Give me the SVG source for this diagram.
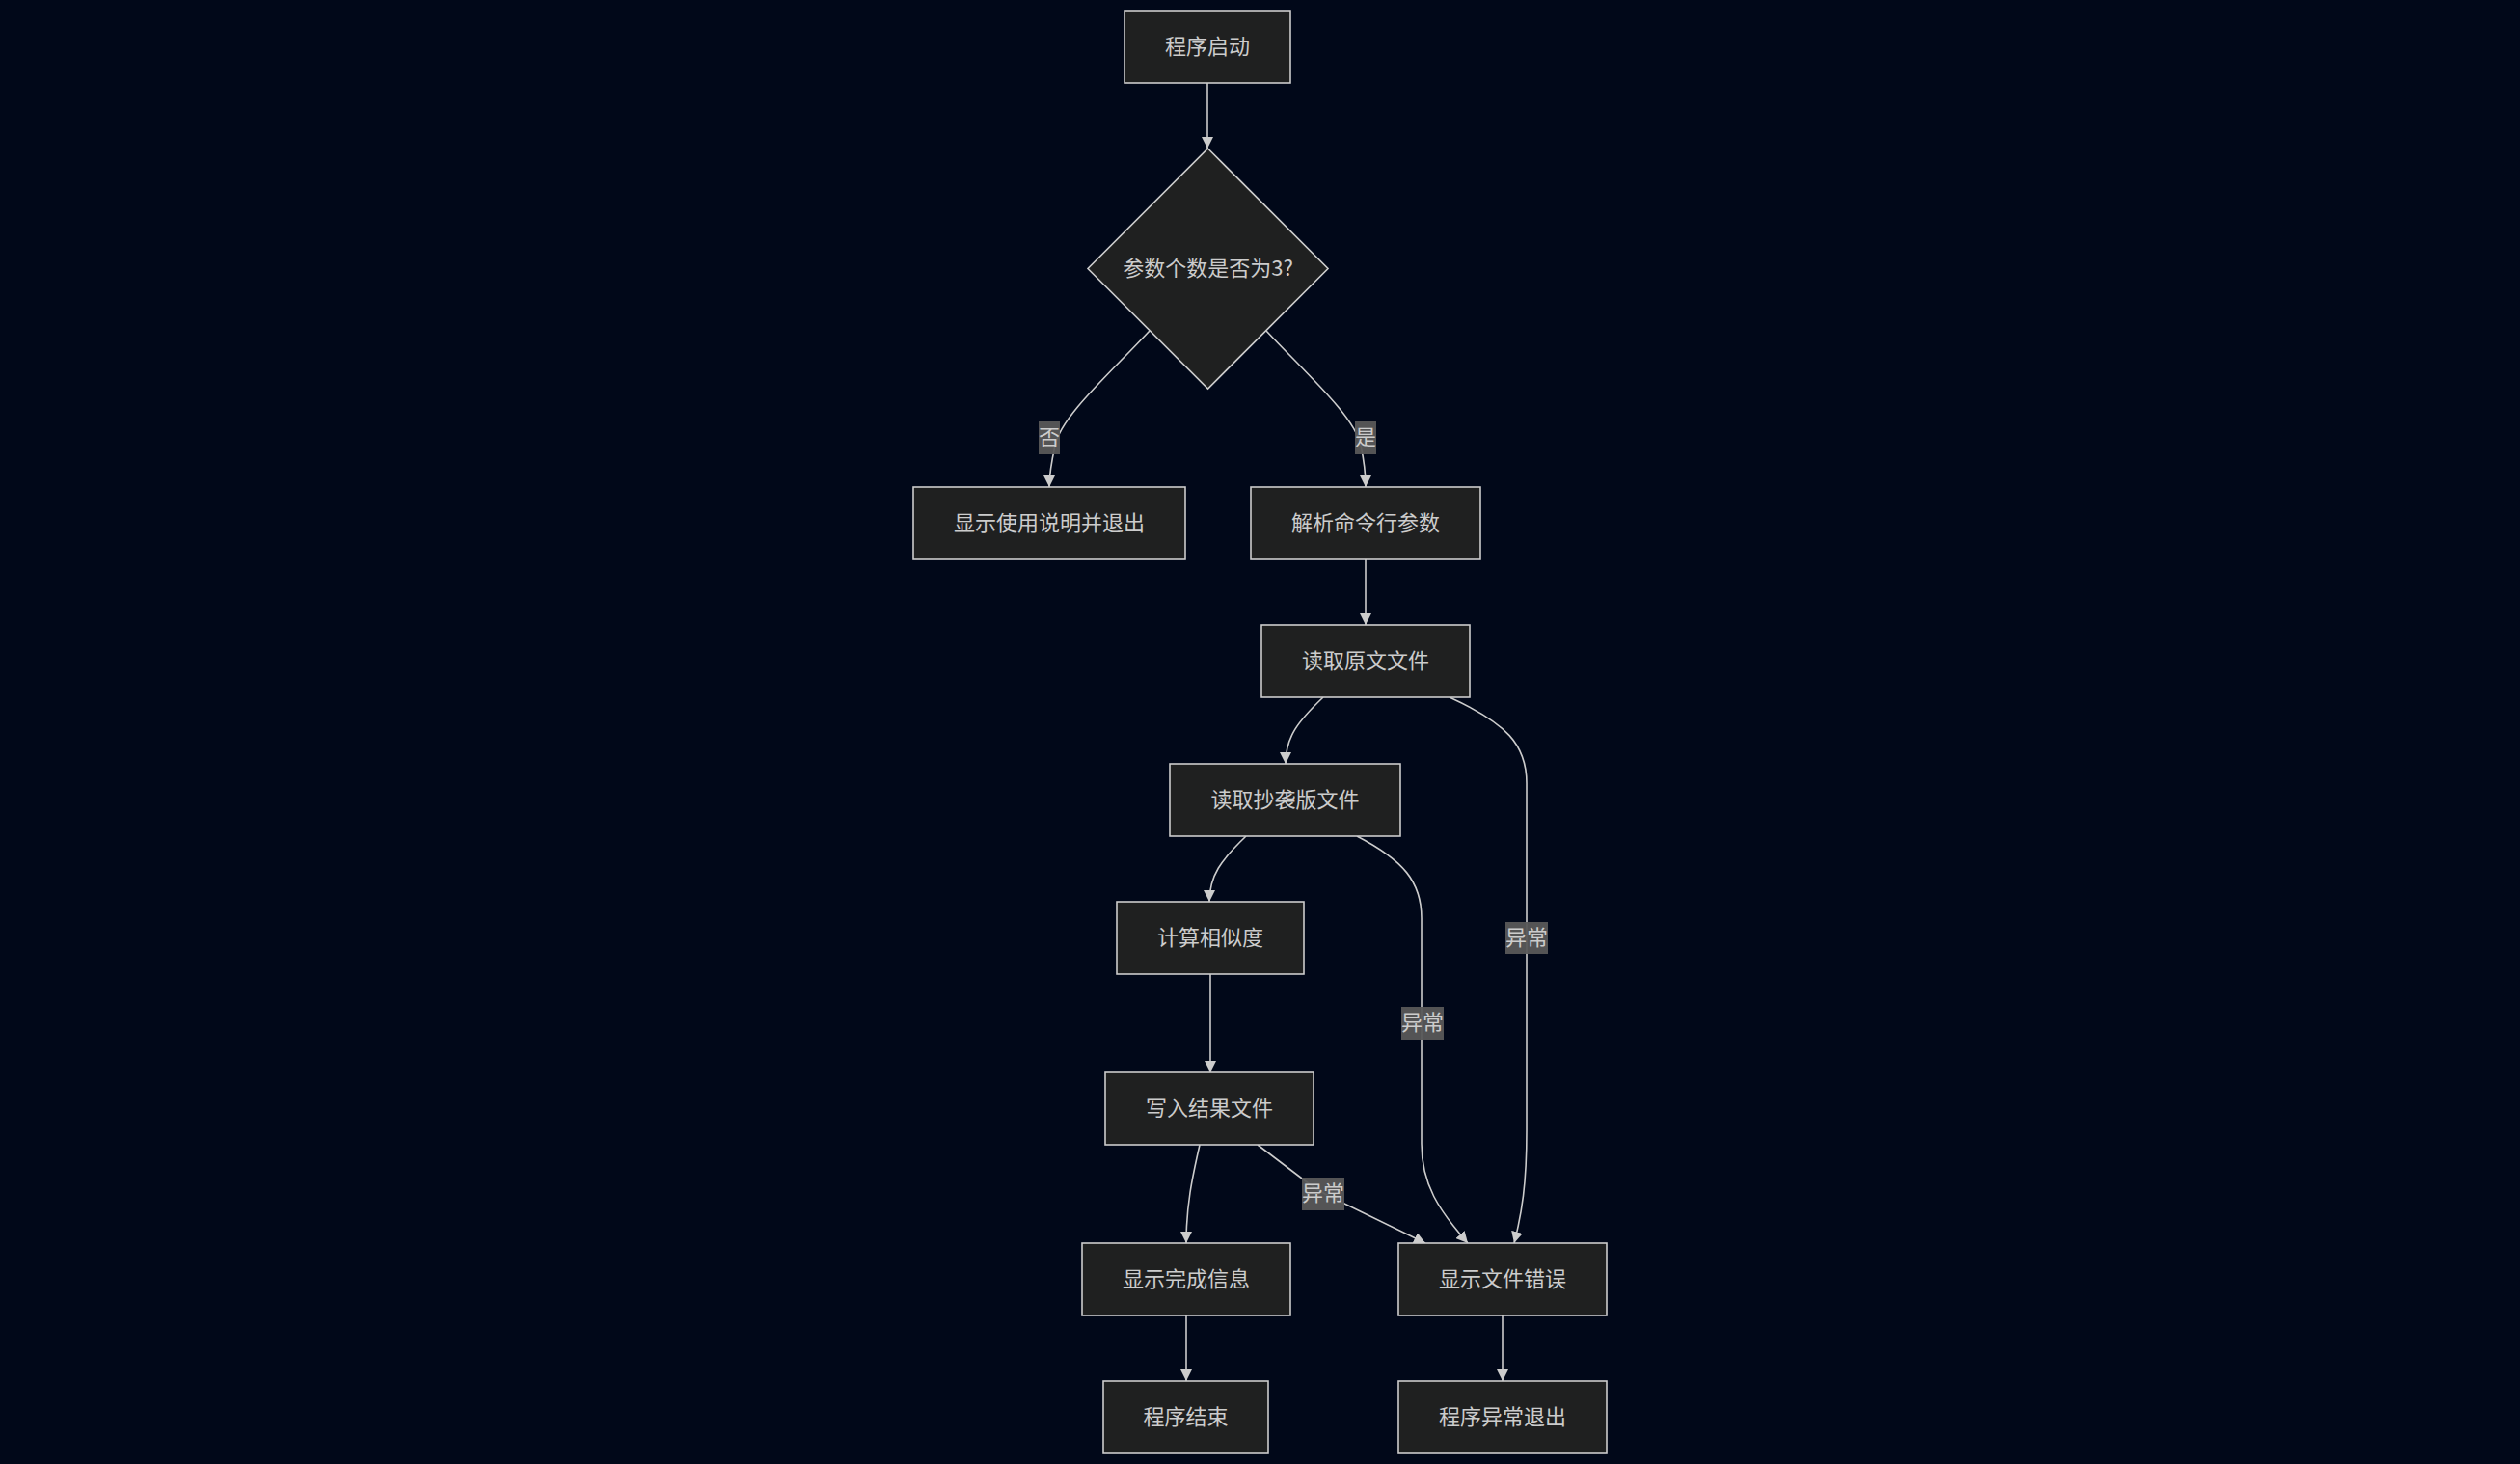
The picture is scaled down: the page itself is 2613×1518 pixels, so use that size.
<svg xmlns="http://www.w3.org/2000/svg" width="2613" height="1518" viewBox="0 0 2613 1518">
<style>
.node rect,.node polygon{fill:#1f2020;stroke:#cccccc;stroke-width:1.6}
.node text{fill:#cccccc;font-family:"Noto Sans CJK SC","Noto Sans",sans-serif;font-size:22px;text-anchor:middle;dominant-baseline:central}
.edge{fill:none;stroke:#cccccc;stroke-width:1.6;marker-end:url(#arrow)}
.lbl rect{fill:#585858;opacity:0.95}
.lbl text{fill:#cccccc;font-family:"Noto Sans CJK SC","Noto Sans",sans-serif;font-size:22px;text-anchor:middle;dominant-baseline:central}
</style>
<defs>
<marker id="arrow" viewBox="0 0 12 12" refX="12" refY="6" markerWidth="12" markerHeight="12" markerUnits="userSpaceOnUse" orient="auto">
<path d="M0,0 L12,6 L0,12 z" fill="#cccccc"/>
</marker>
</defs>
<rect x="0" y="0" width="2613" height="1518" fill="#010819"/>
<g id="connectors">
<path class="edge" d="M1252,86 L1252,154"/>
<path class="edge" d="M1192,343 C1150,388 1100,432 1094,462 C1090,480 1088,490 1088,505"/>
<path class="edge" d="M1313,343 C1355,388 1405,432 1411,462 C1415,480 1416,490 1416,505"/>
<path class="edge" d="M1416,580 L1416,648"/>
<path class="edge" d="M1372,723 C1346,748 1333,764 1333,792"/>
<path class="edge" d="M1503,723 C1562,750 1583,772 1583,812 L1583,1172 C1583,1228 1578,1258 1570,1289"/>
<path class="edge" d="M1292,867 C1266,892 1254,908 1254,935"/>
<path class="edge" d="M1407,867 C1455,892 1474,914 1474,952 L1474,1186 C1474,1228 1492,1255 1522,1289"/>
<path class="edge" d="M1255,1010 L1255,1112"/>
<path class="edge" d="M1244,1187 C1236,1222 1230,1250 1230,1289"/>
<path class="edge" d="M1304,1187 L1358,1228 Q1372,1238 1390,1246 L1478,1289"/>
<path class="edge" d="M1230,1364 L1230,1432"/>
<path class="edge" d="M1558,1364 L1558,1432"/>
<g class="lbl"><rect x="1077" y="437" width="22" height="34"/><text x="1088" y="451">否</text></g>
<g class="lbl"><rect x="1405" y="437" width="22" height="34"/><text x="1416" y="451">是</text></g>
<g class="lbl"><rect x="1561" y="956" width="44" height="33"/><text x="1583" y="969.5">异常</text></g>
<g class="lbl"><rect x="1453" y="1044" width="44" height="34"/><text x="1475" y="1058">异常</text></g>
<g class="lbl"><rect x="1350" y="1221" width="44" height="34"/><text x="1372" y="1235">异常</text></g>
</g>
<g id="A" class="node"><rect x="1166" y="11" width="172" height="75"/><text x="1252" y="45.5">程序启动</text></g>
<g id="B" class="node"><polygon points="1252.5,154 1377,278.5 1252.5,403 1128,278.5"/><text x="1252.5" y="275.5">参数个数是否为3?</text></g>
<g id="C" class="node"><rect x="947" y="505" width="282" height="75"/><text x="1088" y="539.5">显示使用说明并退出</text></g>
<g id="D" class="node"><rect x="1297" y="505" width="238" height="75"/><text x="1416" y="539.5">解析命令行参数</text></g>
<g id="E" class="node"><rect x="1308" y="648" width="216" height="75"/><text x="1416" y="682.5">读取原文文件</text></g>
<g id="F" class="node"><rect x="1213" y="792" width="239" height="75"/><text x="1332.5" y="826.5">读取抄袭版文件</text></g>
<g id="G" class="node"><rect x="1158" y="935" width="194" height="75"/><text x="1255" y="969.5">计算相似度</text></g>
<g id="H" class="node"><rect x="1146" y="1112" width="216" height="75"/><text x="1254" y="1146.5">写入结果文件</text></g>
<g id="I" class="node"><rect x="1122" y="1289" width="216" height="75"/><text x="1230" y="1323.5">显示完成信息</text></g>
<g id="J" class="node"><rect x="1450" y="1289" width="216" height="75"/><text x="1558" y="1323.5">显示文件错误</text></g>
<g id="K" class="node"><rect x="1144" y="1432" width="171" height="75"/><text x="1229.5" y="1466.5">程序结束</text></g>
<g id="L" class="node"><rect x="1450" y="1432" width="216" height="75"/><text x="1558" y="1466.5">程序异常退出</text></g>
</svg>
